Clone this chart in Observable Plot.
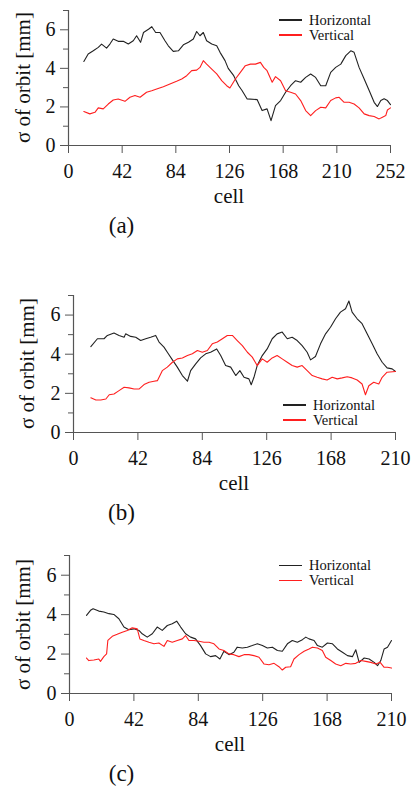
<!DOCTYPE html>
<html><head><meta charset="utf-8">
<script src="https://cdn.jsdelivr.net/npm/d3@7"></script>
<script src="https://cdn.jsdelivr.net/npm/@observablehq/plot@0.6"></script>
<style>
body{margin:0;background:#fff;}
#root{position:relative;width:411px;height:786px;overflow:hidden;font-family:'Liberation Serif','Tinos','Times New Roman',Times,'DejaVu Serif',serif;color:#111;}
.abs{position:absolute;white-space:nowrap;line-height:1;}
.panel{position:absolute;left:0;}
.leg{position:absolute;display:flex;flex-direction:column;font-size:14.5px;}
.leg .row{display:flex;align-items:center;height:15px;line-height:15px;}
.leg .sw{display:inline-block;width:23px;height:1.3px;margin-right:7px;}
svg text{font-family:'Liberation Serif','Tinos','Times New Roman',Times,'DejaVu Serif',serif;}
</style></head><body><div id="root"></div>
<script>
// ---- data ----
const xTicksA = [0, 42, 84, 126, 168, 210, 252];
const xTicksBC = [0, 42, 84, 126, 168, 210];
const yTicksMajor = [0, 2, 4, 6];
const yTicksMinor = [1, 3, 5, 7];
const seriesNames = ["Horizontal", "Vertical"];
const seriesColors = ["#222222", "#ff1f1f"];
const panelLabels = ["(a)", "(b)", "(c)"];
const xLabel = "cell";
const yLabel = "σ of orbit [mm]";

const aHorizontal = [[12,4.36],[15.4,4.74],[19.4,4.91],[23.3,5.09],[25.9,5.26],[29.8,5.05],[32.4,5.26],[35,5.52],[38.9,5.40],[42.9,5.40],[46.8,5.26],[50.7,5.43],[53.3,5.69],[56.4,5.35],[58.7,5.86],[62.6,6.03],[65.2,6.16],[68.2,5.86],[71.6,5.86],[75.5,5.43],[78.1,5.17],[82,4.88],[86,4.91],[89.9,5.22],[93.9,5.35],[97.7,5.52],[100.3,5.91],[102.9,5.69],[105.5,5.86],[108.1,5.43],[112.1,5.26],[116,5.17],[118.6,4.83],[122.5,4.40],[125,4.0],[129.3,3.62],[133.2,3.10],[135.8,2.85],[139.7,2.42],[147.6,2.38],[151.5,1.81],[155.4,1.90],[158.5,1.29],[162,2.07],[166,2.33],[169.9,2.76],[173.8,3.10],[177.7,3.36],[181.7,3.28],[185.6,3.53],[189.5,3.71],[193.4,3.53],[197.4,3.10],[201.3,3.10],[205.2,3.79],[209.1,4.05],[213.1,4.22],[217,4.66],[220.9,4.91],[223.5,4.83],[227.4,4.05],[231.4,3.45],[235.3,2.85],[239.2,2.24],[241.8,2.02],[244.4,2.33],[247,2.42],[249.6,2.33],[252,2.12]];
const aVertical = [[12,1.76],[16.7,1.64],[20.7,1.72],[23.3,1.95],[27.2,1.90],[31.1,2.15],[35,2.36],[38.9,2.41],[44.2,2.29],[48.1,2.50],[52,2.59],[56,2.50],[61.1,2.76],[65.1,2.84],[69,2.93],[74.2,3.05],[79.4,3.19],[84.6,3.33],[88.6,3.45],[92.5,3.62],[96.4,3.88],[100.3,3.91],[102.9,4.05],[105.5,4.40],[108.1,4.22],[112.1,3.96],[116,3.71],[119.9,3.36],[123.8,3.10],[126.3,2.98],[130.6,3.45],[134.5,3.79],[138.4,4.14],[142.4,4.22],[146.3,4.22],[150.2,4.31],[152.8,4.05],[155.4,3.88],[159.4,3.28],[162,3.57],[166,3.36],[169.9,2.84],[173.8,2.76],[177.7,2.67],[181.7,2.33],[185.6,1.81],[189.5,1.55],[193.4,1.81],[197.4,1.98],[201.3,1.95],[205.2,2.33],[209.1,2.47],[211.8,2.50],[215.7,2.24],[219.6,2.24],[223.5,2.15],[227.4,1.95],[231.4,1.64],[235.3,1.55],[239.2,1.50],[243.1,1.38],[245.7,1.47],[248.3,1.55],[249.6,1.84],[252,1.95]];

const bHorizontal = [[11.3,4.39],[15.6,4.79],[19.9,4.79],[22.1,4.96],[26.4,5.08],[29.7,4.96],[33,4.87],[34,5.04],[37.3,4.91],[40.6,4.87],[43.8,4.70],[47.1,4.79],[50.3,4.87],[53.6,4.96],[55.8,4.62],[59,4.36],[61.2,4.10],[64.5,3.71],[67.7,3.34],[71,2.91],[74.3,2.62],[76.4,3.16],[79.7,3.51],[82.9,3.81],[86.2,4.02],[89.4,4.10],[93.4,4.27],[96,3.93],[99.2,3.42],[102.5,3.34],[105.8,2.91],[108.5,3.16],[111.2,2.82],[114.4,2.74],[115.9,2.44],[117.7,2.82],[119.8,3.42],[123.1,3.93],[126.3,4.27],[129.6,4.79],[132.8,5.04],[136.1,5.13],[139.4,4.79],[142.6,4.87],[145.9,4.70],[149.1,4.44],[152.4,4.10],[154.6,3.71],[157.8,3.88],[161.1,4.53],[164.4,5.04],[167.6,5.38],[170.9,5.81],[174.1,6.15],[177.4,6.32],[179.6,6.72],[181.7,6.15],[185,5.81],[188.2,5.56],[191.5,5.04],[194.8,4.53],[198,4.02],[201.3,3.59],[204.5,3.30],[207.8,3.25],[210,3.12]];
const bVertical = [[11.3,1.77],[14.6,1.66],[17.8,1.66],[21.1,1.71],[23.3,1.93],[26.4,1.97],[29.7,2.14],[33,2.31],[36.2,2.28],[39.5,2.22],[42.7,2.22],[46,2.45],[49.3,2.57],[52.5,2.62],[54.7,2.65],[57.9,3.16],[61.2,3.34],[64.5,3.59],[67.7,3.76],[71,3.81],[74.3,3.93],[77.5,4.02],[80.8,4.19],[84,4.10],[87.3,4.19],[90.5,4.53],[93.8,4.62],[97.1,4.79],[100.3,4.96],[103.6,4.96],[106.8,4.70],[110.1,4.44],[113.4,4.10],[116.6,3.85],[119.8,3.42],[123.1,3.76],[126.3,3.59],[129.6,3.81],[132.8,3.93],[136.1,3.76],[139.4,3.59],[142.6,3.42],[145.9,3.34],[149.1,3.42],[152.4,3.16],[155.7,2.91],[158.9,2.82],[162.2,2.74],[165.4,2.68],[168.7,2.82],[172,2.74],[175.2,2.79],[178.5,2.85],[181.7,2.79],[185,2.68],[188.2,2.48],[190.4,1.93],[192.6,2.39],[195.8,2.57],[199.1,2.48],[201.3,2.82],[204.5,3.08],[210,3.12]];

const cHorizontal = [[11.1,3.96],[13.7,4.22],[15.4,4.30],[19.1,4.18],[22.4,4.13],[25.7,4.05],[28.9,4.01],[32.2,3.79],[35.5,3.37],[38.7,3.23],[42,3.28],[45.3,3.20],[47.4,3.03],[50.7,2.86],[54,3.03],[57.2,3.37],[60.5,3.20],[63.8,3.45],[67,3.54],[69.9,3.67],[72.5,3.37],[75.7,3.03],[79,2.86],[82.2,2.77],[85.5,2.43],[88.8,2.01],[92,1.87],[95.3,1.92],[98.1,1.75],[100.7,2.14],[104,1.97],[107.2,2.09],[109.4,2.35],[112.7,2.31],[116,2.35],[119.2,2.43],[122.5,2.52],[125.8,2.43],[129,2.31],[132.3,2.35],[135.6,2.18],[138.8,2.14],[142.1,2.52],[145.3,2.69],[148.6,2.60],[151.9,2.73],[154.1,2.86],[156.2,2.77],[159.5,2.69],[161.7,2.43],[164.9,2.35],[168.2,2.56],[171.5,2.52],[174.7,2.26],[178,2.09],[181.3,1.92],[184.5,1.87],[186.7,2.22],[188.9,1.58],[192.2,1.80],[195.4,1.75],[198.7,1.58],[200.9,1.41],[203,1.67],[205.2,2.26],[207.4,2.35],[210,2.69]];
const cVertical = [[11.1,1.80],[12.6,1.67],[15.9,1.70],[19.1,1.75],[20.2,1.63],[22.4,1.87],[24.2,2.01],[25,2.69],[27.9,2.90],[31.1,3.00],[34.4,3.11],[37.7,3.20],[40.9,3.33],[44.2,3.28],[45.9,2.77],[48.5,2.69],[51.8,2.60],[55.1,2.52],[58.3,2.56],[61.6,2.39],[63.8,2.69],[67,2.60],[70.3,2.69],[73.6,2.77],[75.7,2.94],[77.9,2.69],[81.2,2.69],[84.4,2.65],[87.7,2.60],[91,2.60],[94.2,2.52],[97.5,2.26],[100.7,2.18],[104,2.01],[107.2,1.97],[110.5,1.87],[113.8,1.97],[117,1.97],[120.3,1.92],[123.6,1.84],[126.8,1.50],[130.1,1.46],[133.4,1.53],[136.6,1.36],[138.8,1.19],[141,1.33],[144.2,1.36],[146.4,1.75],[149.7,1.97],[153,2.14],[156.2,2.26],[158.4,2.35],[161.7,2.31],[164.9,2.18],[167.1,1.84],[170.4,1.67],[173.6,1.50],[176.9,1.41],[180.2,1.53],[183.4,1.50],[186.7,1.53],[190,1.67],[193.2,1.63],[196.5,1.58],[199.8,1.50],[202.6,1.58],[205.2,1.33],[207.4,1.33],[210,1.29]];

// ---- layout (positions only) ----
const panels = [
  {label: panelLabels[0], h: aHorizontal, v: aVertical, xmax: 252, xticks: xTicksA, top: 0,   inner: 135, ml: 68, mr: 21, yLabX: 23, legX: 279, legY: 12.5},
  {label: panelLabels[1], h: bHorizontal, v: bVertical, xmax: 210, xticks: xTicksBC, top: 285, inner: 137, ml: 73, mr: 16, yLabX: 27, legX: 283, legY: 397.5},
  {label: panelLabels[2], h: cHorizontal, v: cVertical, xmax: 210, xticks: xTicksBC, top: 545, inner: 138, ml: 69, mr: 20, yLabX: 23, legX: 279, legY: 558}
];
const FONT = "'Liberation Serif','Tinos','Times New Roman',Times,'DejaVu Serif',serif";
const root = document.getElementById("root");

function addText(txt, css){
  const d = document.createElement("div");
  d.className = "abs";
  d.textContent = txt;
  Object.assign(d.style, css);
  root.appendChild(d);
  return d;
}

panels.forEach(p => {
  const mt = 10, mb = 42;
  const height = mt + p.inner + mb;
  const rows = [];
  p.h.forEach(([c, s]) => rows.push({cell: c, sigma: s, series: seriesNames[0]}));
  p.v.forEach(([c, s]) => rows.push({cell: c, sigma: s, series: seriesNames[1]}));
  const chart = Plot.plot({
    width: 411, height,
    marginTop: mt, marginBottom: mb, marginLeft: p.ml, marginRight: p.mr,
    x: {domain: [0, p.xmax], label: null},
    y: {domain: [0, 7], label: null},
    color: {domain: seriesNames, range: seriesColors},
    style: {fontFamily: FONT, fontSize: "20px", background: "transparent", color: "#111", overflow: "visible"},
    marks: [
      Plot.ruleY([0], {stroke: "#555", strokeWidth: 1.2}),
      Plot.ruleX([0], {stroke: "#555", strokeWidth: 1.2}),
      Plot.axisX({ticks: p.xticks, tickFormat: d => String(d), tickSize: 8, tickPadding: 10, fontSize: 20, stroke: "#555", fill: "#111", label: null}),
      Plot.axisY({ticks: yTicksMajor, tickFormat: d => String(d), tickSize: 8, tickPadding: 5, fontSize: 20, stroke: "#555", fill: "#111", label: null}),
      Plot.axisY({ticks: yTicksMinor, tickSize: 5, tickFormat: () => "", stroke: "#555", label: null}),
      Plot.line(rows, {x: "cell", y: "sigma", z: "series", stroke: "series", strokeWidth: 1.1})
    ]
  });
  const wrap = document.createElement("div");
  wrap.className = "panel";
  wrap.style.top = p.top + "px";
  wrap.appendChild(chart);
  root.appendChild(wrap);

  const base = p.top + mt + p.inner;
  const cx = p.ml + (411 - p.ml - p.mr) / 2;
  // x label
  addText(xLabel, {left: (cx - 60) + "px", width: "120px", textAlign: "center", top: (base + 51 - 10.5) + "px", fontSize: "21px"});
  // panel label
  addText(p.label, {left: (121.5 - 40) + "px", width: "80px", textAlign: "center", top: (base + 80 - 11.5) + "px", fontSize: "23px"});
  // y label (rotated)
  const yc = p.top + mt + p.inner / 2;
  addText(yLabel, {left: (p.yLabX - 100) + "px", width: "200px", textAlign: "center", top: (yc - 10.5) + "px", fontSize: "21px", transform: "rotate(-90deg)", transformOrigin: "50% 50%"});
  // legend
  const leg = document.createElement("div");
  leg.className = "leg";
  leg.style.left = p.legX + "px";
  leg.style.top = p.legY + "px";
  seriesNames.forEach((n, i) => {
    const r = document.createElement("div");
    r.className = "row";
    const sw = document.createElement("span");
    sw.className = "sw";
    sw.style.background = seriesColors[i];
    const t = document.createElement("span");
    t.textContent = n;
    r.appendChild(sw); r.appendChild(t);
    leg.appendChild(r);
  });
  root.appendChild(leg);
});
</script></body></html>
